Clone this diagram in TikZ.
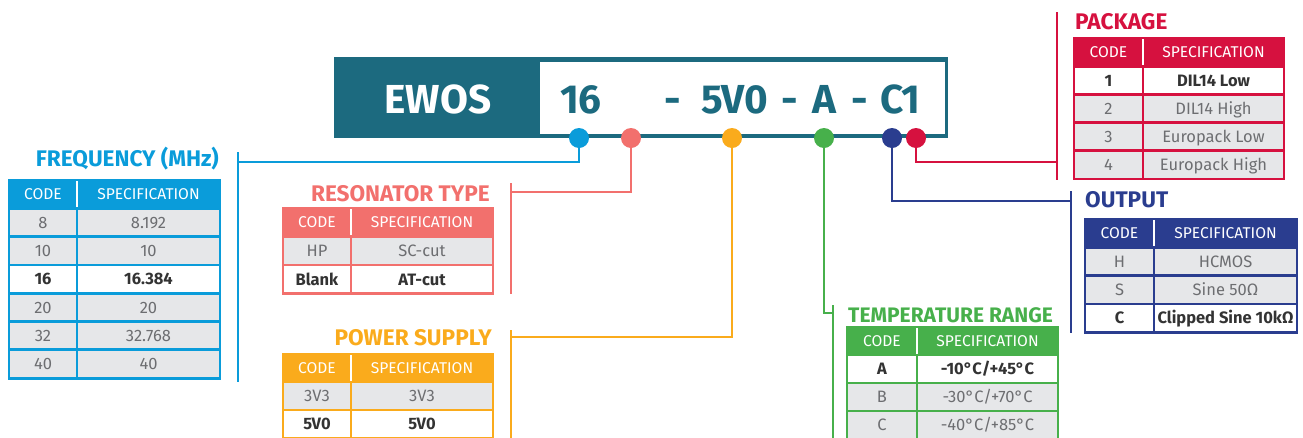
\documentclass[tikz,border=0pt]{standalone}
\usepackage{fontspec}
\setmainfont{Fira Sans}

\definecolor{ewosteal}{HTML}{1C6A7F}
\definecolor{fblue}{HTML}{0A9CDA}
\definecolor{salmon}{HTML}{F2706D}
\definecolor{amber}{HTML}{FAAB1C}
\definecolor{leaf}{HTML}{47B04B}
\definecolor{navy}{HTML}{2A3D8F}
\definecolor{crimson}{HTML}{D6113F}
\definecolor{cellgray}{HTML}{E6E7E9}
\definecolor{txtgray}{HTML}{6D6E71}
\definecolor{txtdark}{HTML}{333333}

\newcommand{\bigfont}{\fontsize{40.5}{44}\selectfont\bfseries}
\newcommand{\titlefont}{\fontsize{22.6}{26}\selectfont\bfseries}
\newcommand{\headfont}{\fontsize{15.6}{18}\selectfont}
\newcommand{\bodyfont}{\fontsize{16.5}{19}\selectfont}
\newcommand{\rowplain}{\color{txtgray}}
\newcommand{\rowbold}{\color{txtdark}\bfseries}

\tikzset{
  dot/.style={circle, fill=#1, minimum size=20, inner sep=0pt},
  lead/.style={draw=#1, line width=2.5},
  cellframe/.style={draw=#1, line width=2.8},
  headtext/.style={text=white, font=\headfont, inner sep=0pt, anchor=base},
  bodytext/.style={font=\bodyfont, inner sep=0pt, anchor=base},
  title/.style={text=#1, font=\titlefont, inner sep=0pt},
  bigcode/.style={text=ewosteal, font=\bigfont, inner sep=0pt, anchor=base}
}

% #1 name, #2 colour, #3 left, #4 split, #5 right, #6 top, #7 row height, #8 rows
\newcommand{\spectable}[8]{%
  \draw[cellframe=#2, fill=#2] (#3,#6) rectangle (#5,#6+#7);
  \draw[white, line width=1.2] (#4,#6+1.4) -- (#4,#6+#7-1.4);
  \node[headtext] (#1-hc) at ({(#3+#4)/2},#6+#7/2+5.4) {CODE};
  \node[headtext] (#1-hs) at ({(#4+#5)/2},#6+#7/2+5.4) {SPECIFICATION};
  \foreach \kode/\spc/\shade/\fmt [count=\i] in {#8}
  {
    \pgfmathsetmacro\ya{#6+\i*#7}
    \pgfmathsetmacro\yb{#6+(\i+1)*#7}
    \draw[cellframe=#2, fill=\shade] (#3,\ya) rectangle (#4,\yb);
    \draw[cellframe=#2, fill=\shade] (#4,\ya) rectangle (#5,\yb);
    \node[bodytext] (#1-c\i) at ({(#3+#4)/2},{\ya+#7/2+5.8}) {\fmt\kode};
    \node[bodytext] (#1-s\i) at ({(#4+#5)/2},{\ya+#7/2+5.8}) {\fmt\spc};
  }
}

\begin{document}
\begin{tikzpicture}[x=1pt, y=-1pt]
\useasboundingbox (0,0) rectangle (1303,437);

% part number
\fill[ewosteal] (334,57) rectangle (948,138);
\fill[white] (540,62) rectangle (945,134);
\node[bigcode, text=white] (brand) at (438,113) {EWOS};
\node[bigcode] (c-freq) at (581,113) {16};
\node[bigcode] (c-dash1) at (673,113) {-};
\node[bigcode] (c-volt) at (735,113) {5V0};
\node[bigcode] (c-dash2) at (790,113) {-};
\node[bigcode] (c-temp) at (824,113) {A};
\node[bigcode] (c-dash3) at (860,113) {-};
\node[bigcode] (c-out) at (900,113) {C1};

% leads
\coordinate (k-freq) at (238,162);
\coordinate (k-reso) at (511,192);
\coordinate (k-volt) at (511,337);
\coordinate (k-temp) at (833,313);
\coordinate (k-out) at (1071,201);
\coordinate (k-pack) at (1057,162);
\coordinate (t-freq) at (238,152);  \coordinate (b-freq) at (238,382);
\coordinate (t-reso) at (511,183);  \coordinate (b-reso) at (511,294);
\coordinate (t-volt) at (511,330);  \coordinate (b-volt) at (511,440);
\coordinate (t-temp) at (833,305);  \coordinate (b-temp) at (833,440);
\coordinate (t-out) at (1071,191);  \coordinate (b-out) at (1071,333);
\coordinate (t-pack) at (1057,12);  \coordinate (b-pack) at (1057,180);

\draw[lead=fblue] (t-freq) -- (b-freq);
\draw[lead=salmon] (t-reso) -- (b-reso);
\draw[lead=amber] (t-volt) -- (b-volt);
\draw[lead=leaf] (t-temp) -- (b-temp);
\draw[lead=navy] (t-out) -- (b-out);
\draw[lead=crimson] (t-pack) -- (b-pack);

\draw[lead=fblue] (579,138) |- (k-freq);
\draw[lead=salmon] (631,138) |- (k-reso);
\draw[lead=amber] (732,138) |- (k-volt);
\draw[lead=leaf] (824,138) |- (k-temp);
\draw[lead=navy] (892,138) |- (k-out);
\draw[lead=crimson] (916,138) |- (k-pack);

\node[dot=fblue] (d-freq) at (579,138) {};
\node[dot=salmon] (d-reso) at (631,138) {};
\node[dot=amber] (d-volt) at (732,138) {};
\node[dot=leaf] (d-temp) at (824,138) {};
\node[dot=navy] (d-out) at (892,138) {};
\node[dot=crimson] (d-pack) at (916,138) {};

% tables
\node[title=fblue, anchor=base east] (freq-title) at (219,166) {FREQUENCY (MHz)};
\spectable{freq}{fblue}{9}{77}{220}{180}{28.3}{8/8.192/cellgray/\rowplain, 10/10/cellgray/\rowplain, 16/16.384/white/\rowbold, 20/20/cellgray/\rowplain, 32/32.768/cellgray/\rowplain, 40/40/cellgray/\rowplain}

\node[title=salmon, anchor=base east] (reso-title) at (490,201) {RESONATOR TYPE};
\spectable{reso}{salmon}{283}{351}{493}{208}{28.5}{HP/SC-cut/cellgray/\rowplain, Blank/AT-cut/white/\rowbold}

\node[title=amber, anchor=base east] (volt-title) at (492,345) {POWER SUPPLY};
\spectable{volt}{amber}{283}{351}{493}{354}{28}{3V3/3V3/cellgray/\rowplain, 5V0/5V0/white/\rowbold}

\node[title=leaf, anchor=base west, font=\fontsize{21}{24}\selectfont\bfseries] (temp-title) at (848,322) {TEMPERATURE RANGE};
\spectable{temp}{leaf}{847}{917}{1058}{327}{28}{A/{-10°C/+45°C}/white/\rowbold, B/{-30°C/+70°C}/cellgray/\rowplain, C/{-40°C/+85°C}/cellgray/\rowplain}

\node[title=navy, anchor=base west] (out-title) at (1085,207) {OUTPUT};
\spectable{out}{navy}{1085}{1154}{1297}{219}{28.3}{H/HCMOS/cellgray/\rowplain, S/Sine 50Ω/cellgray/\rowplain, C/Clipped Sine 10kΩ/white/\rowbold}

\node[title=crimson, anchor=base west] (pack-title) at (1075,29) {PACKAGE};
\spectable{pack}{crimson}{1074}{1143}{1284}{38}{28.2}{1/DIL14 Low/white/\rowbold, 2/DIL14 High/cellgray/\rowplain, 3/Europack Low/cellgray/\rowplain, 4/Europack High/cellgray/\rowplain}
\end{tikzpicture}
\end{document}
